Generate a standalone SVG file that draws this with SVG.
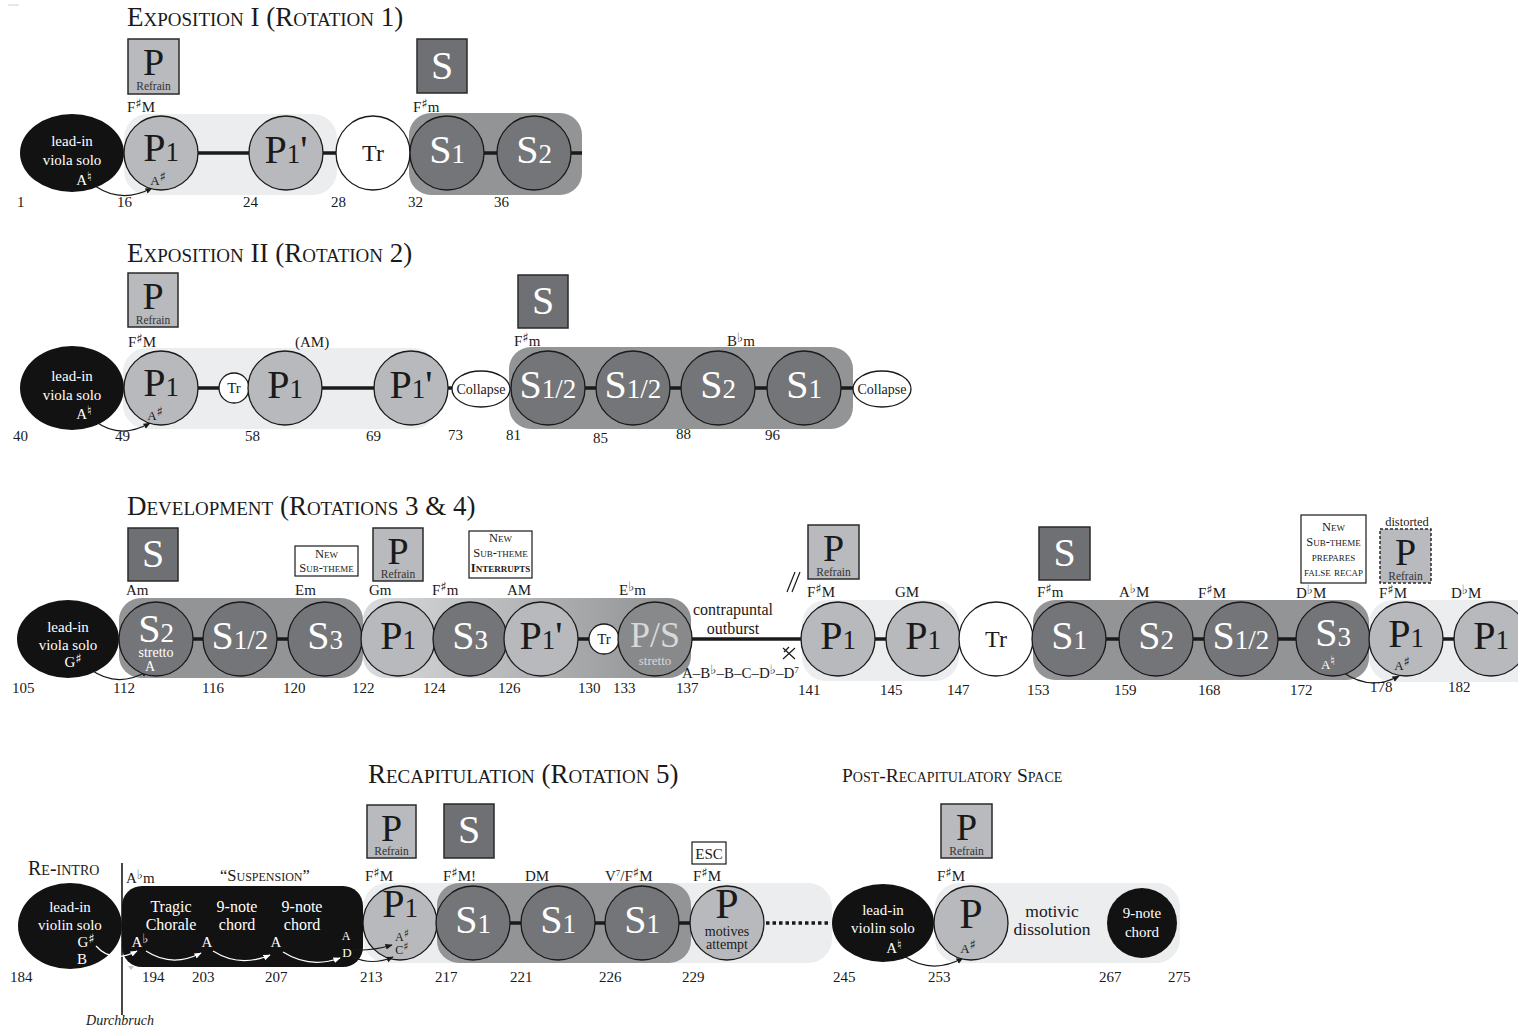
<svg xmlns="http://www.w3.org/2000/svg" width="1518" height="1029" viewBox="0 0 1518 1029">
<style>
text{font-family:"Liberation Serif",serif;fill:#1a1a1a}
.title{font-size:27px;font-variant:small-caps}
.lbl{font-size:15px}
.num{font-size:15px}
.acc{font-family:"DejaVu Sans",sans-serif;font-size:13px}
.big{font-size:40px;text-anchor:middle}
.sub{font-size:27px}
.w{fill:#fff}
.mid{text-anchor:middle}
.band-l{fill:#ecedee}
.band-d{fill:#939496}
.pc{fill:#b8b9bc;stroke:#1a1a1a;stroke-width:1.3}
.sc{fill:#747578;stroke:#1a1a1a;stroke-width:1.3}
.wc{fill:#fff;stroke:#1a1a1a;stroke-width:1.3}
.bk{fill:#121212}
.pbox{fill:#b9babd;stroke:#2a2a2a;stroke-width:1.5}
.sbox{fill:#6f7073;stroke:#2a2a2a;stroke-width:1.5}
.nbox{fill:#fff;stroke:#1a1a1a;stroke-width:1.2}
.bt{font-size:38px;text-anchor:middle}
.st{font-size:40px;text-anchor:middle;fill:#fff}
.ref{font-size:11.5px;text-anchor:middle;fill:#333}
.sm{font-size:12.5px;text-anchor:middle;font-variant:small-caps}
.in{font-size:15px;text-anchor:middle;fill:#fff}
.note{font-size:13px;text-anchor:middle}
.link{stroke:#1a1a1a;stroke-width:3.5;fill:none}
.arr{stroke:#1a1a1a;stroke-width:1.2;fill:none;marker-end:url(#ah)}
.arrw{stroke:#fff;stroke-width:1.2;fill:none;marker-end:url(#ahw)}
</style>
<defs>
<marker id="ah" viewBox="0 0 10 10" refX="9" refY="5" markerWidth="6" markerHeight="6" orient="auto"><path d="M0,1 L10,5 L0,9 z" fill="#1a1a1a"/></marker>
<marker id="ahw" viewBox="0 0 10 10" refX="9" refY="5" markerWidth="6" markerHeight="6" orient="auto"><path d="M0,1 L10,5 L0,9 z" fill="#fff"/></marker>
<linearGradient id="devgrad" x1="0" y1="0" x2="1" y2="0">
<stop offset="0" stop-color="#dadbdc"/><stop offset="1" stop-color="#8c8d8f"/>
</linearGradient>
</defs>
<rect width="1518" height="1029" fill="#fff"/>
<line x1="8" y1="5" x2="19" y2="5" stroke="#d0d0d0" stroke-width="1"/>

<!-- section titles -->
<g id="titles">
<text class="title" x="127" y="26">Exposition I (Rotation 1)</text>
<text class="title" x="127" y="262">Exposition II (Rotation 2)</text>
<text class="title" x="127" y="515">Development (Rotations 3 &amp; 4)</text>
<text class="title" x="368" y="783">Recapitulation (Rotation 5)</text>
<text class="title" x="842" y="782" style="font-size:19.5px">Post-Recapitulatory Space</text>
<text class="title" x="28" y="875" style="font-size:20px">Re-intro</text>
</g>

<!-- tonal regions behind the themes -->
<g id="regions">
<rect class="band-l" x="124" y="114" width="213" height="81" rx="24"/>
<rect class="band-d" x="409" y="113" width="173" height="82" rx="22"/>
<rect class="band-l" x="123" y="348" width="314" height="81" rx="24"/>
<rect class="band-d" x="509" y="347" width="344" height="82" rx="22"/>
<rect class="band-d" x="119" y="598" width="244" height="80" rx="22"/>
<rect x="363" y="598" width="328" height="80" rx="22" fill="url(#devgrad)"/>
<rect class="band-l" x="802" y="600" width="157" height="81" rx="24"/>
<rect class="band-d" x="1033" y="600" width="336" height="80" rx="22"/>
<rect class="band-l" x="1369" y="600" width="180" height="82" rx="24"/>
<rect class="band-l" x="363" y="883" width="469" height="80" rx="24"/>
<rect class="band-d" x="437" y="883" width="254" height="80" rx="22"/>
<rect class="band-l" x="935" y="883" width="245" height="80" rx="24"/>
</g>

<!-- connectors -->
<g id="connectors">
<line class="link" x1="198" y1="153" x2="249" y2="153"/>
<line class="link" x1="322" y1="153" x2="337" y2="153"/>
<line class="link" x1="484" y1="153" x2="498" y2="153"/>
<line class="link" x1="571" y1="153" x2="582" y2="153"/>
<path class="arr" d="M95,186 Q122,204 152,188"/>

<line class="link" x1="198" y1="388" x2="220" y2="388"/>
<line class="link" x1="322" y1="388" x2="375" y2="388"/>
<line class="link" x1="448" y1="388" x2="453" y2="388"/>
<line class="link" x1="585" y1="388" x2="597" y2="388"/>
<line class="link" x1="670" y1="388" x2="682" y2="388"/>
<line class="link" x1="755" y1="388" x2="768" y2="388"/>
<line class="link" x1="841" y1="388" x2="854" y2="388"/>
<path class="arr" d="M95,421 Q120,440 150,423"/>

<line class="link" x1="193" y1="639" x2="204" y2="639"/>
<line class="link" x1="277" y1="639" x2="289" y2="639"/>
<line class="link" x1="578" y1="639" x2="590" y2="639"/>
<line class="link" x1="692" y1="639" x2="802" y2="639"/>
<line class="link" x1="875" y1="639" x2="887" y2="639"/>
<line class="link" x1="1106" y1="639" x2="1120" y2="639"/>
<line class="link" x1="1193" y1="639" x2="1205" y2="639"/>
<line class="link" x1="1278" y1="639" x2="1297" y2="639"/>
<line class="link" x1="1443" y1="639" x2="1455" y2="639"/>
<path class="arr" d="M90,669 Q117,689 148,671"/>
<path class="arr" d="M1341,671 Q1370,692 1399,676"/>

<line class="link" x1="510" y1="923" x2="523" y2="923"/>
<line class="link" x1="594" y1="923" x2="607" y2="923"/>
<line class="link" x1="678" y1="923" x2="691" y2="923"/>
<line class="link" x1="766" y1="923" x2="830" y2="923" stroke-dasharray="3.5 3"/>
<path class="arr" d="M904,956 Q932,975 963,958"/>
</g>

<!-- Exposition I -->
<g id="e1-lead">
<ellipse class="bk" cx="72" cy="153" rx="52" ry="39"/>
<text class="in" x="72" y="146">lead-in</text>
<text class="in" x="72" y="165">viola solo</text>
<text class="in" x="84" y="185">A<tspan class="acc w" dy="-4">♮</tspan></text>
</g>
<g id="e1-refrain">
<rect class="pbox" x="128" y="39" width="51" height="55"/>
<text class="bt" x="153.5" y="75">P</text>
<text class="ref" x="153.5" y="89.5">Refrain</text>
</g>
<text class="lbl" x="127" y="112">F<tspan class="acc" dy="-4">♯</tspan><tspan dy="4">M</tspan></text>
<g id="e1-p1">
<circle class="pc" cx="161" cy="153" r="37"/>
<text class="big" x="161" y="161">P<tspan class="sub">1</tspan></text>
<text class="note" x="158" y="185">A<tspan class="acc" dy="-4">♯</tspan></text>
</g>
<g id="e1-p1b">
<circle class="pc" cx="286" cy="153" r="37"/>
<text class="big" x="286" y="163">P<tspan class="sub">1</tspan>'</text>
</g>
<g id="e1-tr">
<circle class="wc" cx="373" cy="153" r="37"/>
<text class="mid" x="373" y="161" style="font-size:24px">Tr</text>
</g>
<g id="e1-sbox">
<rect class="sbox" x="417" y="39" width="50" height="54"/>
<text class="st" x="442" y="79">S</text>
</g>
<text class="lbl" x="413" y="112">F<tspan class="acc" dy="-4">♯</tspan><tspan dy="4">m</tspan></text>
<g id="e1-s1">
<circle class="sc" cx="447" cy="153" r="37"/>
<text class="big w" x="447" y="163">S<tspan class="sub">1</tspan></text>
</g>
<g id="e1-s2">
<circle class="sc" cx="534" cy="153" r="37"/>
<text class="big w" x="534" y="163">S<tspan class="sub">2</tspan></text>
</g>
<g id="e1-bars">
<text class="num" x="17" y="207">1</text>
<text class="num" x="117" y="207">16</text>
<text class="num" x="243" y="207">24</text>
<text class="num" x="331" y="207">28</text>
<text class="num" x="408" y="207">32</text>
<text class="num" x="494" y="207">36</text>
</g>

<!-- Exposition II -->
<g id="e2-lead">
<ellipse class="bk" cx="72" cy="388" rx="52" ry="42"/>
<text class="in" x="72" y="381">lead-in</text>
<text class="in" x="72" y="400">viola solo</text>
<text class="in" x="84" y="419">A<tspan class="acc w" dy="-4">♮</tspan></text>
</g>
<g id="e2-refrain">
<rect class="pbox" x="128" y="273" width="50" height="54"/>
<text class="bt" x="153" y="309">P</text>
<text class="ref" x="153" y="323.5">Refrain</text>
</g>
<text class="lbl" x="128" y="347">F<tspan class="acc" dy="-4">♯</tspan><tspan dy="4">M</tspan></text>
<text class="lbl" x="295" y="347">(AM)</text>
<g id="e2-p1">
<circle class="pc" cx="161" cy="388" r="37"/>
<text class="big" x="161" y="396">P<tspan class="sub">1</tspan></text>
<text class="note" x="155" y="420">A<tspan class="acc" dy="-4">♯</tspan></text>
</g>
<g id="e2-tr">
<circle class="wc" cx="234" cy="388" r="15"/>
<text class="mid" x="234" y="393" style="font-size:15px">Tr</text>
</g>
<g id="e2-p1b">
<circle class="pc" cx="285" cy="388" r="37"/>
<text class="big" x="285" y="398">P<tspan class="sub">1</tspan></text>
</g>
<g id="e2-p1c">
<circle class="pc" cx="411" cy="388" r="37"/>
<text class="big" x="411" y="398">P<tspan class="sub">1</tspan>'</text>
</g>
<g id="e2-collapse1">
<ellipse class="wc" cx="481" cy="389" rx="29" ry="18"/>
<text class="mid" x="481" y="394" style="font-size:14px">Collapse</text>
</g>
<g id="e2-sbox">
<rect class="sbox" x="518" y="275" width="50" height="53"/>
<text class="st" x="543" y="314">S</text>
</g>
<text class="lbl" x="514" y="346">F<tspan class="acc" dy="-4">♯</tspan><tspan dy="4">m</tspan></text>
<text class="lbl" x="727" y="346">B<tspan class="acc" dy="-4">♭</tspan><tspan dy="4">m</tspan></text>
<g id="e2-s12a">
<circle class="sc" cx="548" cy="388" r="37"/>
<text class="big w" x="548" y="398">S<tspan class="sub">1/2</tspan></text>
</g>
<g id="e2-s12b">
<circle class="sc" cx="633" cy="388" r="37"/>
<text class="big w" x="633" y="398">S<tspan class="sub">1/2</tspan></text>
</g>
<g id="e2-s2">
<circle class="sc" cx="718" cy="388" r="37"/>
<text class="big w" x="718" y="398">S<tspan class="sub">2</tspan></text>
</g>
<g id="e2-s1">
<circle class="sc" cx="804" cy="388" r="37"/>
<text class="big w" x="804" y="398">S<tspan class="sub">1</tspan></text>
</g>
<g id="e2-collapse2">
<ellipse class="wc" cx="882" cy="389" rx="29" ry="18"/>
<text class="mid" x="882" y="394" style="font-size:14px">Collapse</text>
</g>
<g id="e2-bars">
<text class="num" x="13" y="441">40</text>
<text class="num" x="115" y="441">49</text>
<text class="num" x="245" y="441">58</text>
<text class="num" x="366" y="441">69</text>
<text class="num" x="448" y="440">73</text>
<text class="num" x="506" y="440">81</text>
<text class="num" x="593" y="443">85</text>
<text class="num" x="676" y="439">88</text>
<text class="num" x="765" y="440">96</text>
</g>

<!-- Development -->
<g id="d-lead">
<ellipse class="bk" cx="68" cy="639" rx="51" ry="39"/>
<text class="in" x="68" y="632">lead-in</text>
<text class="in" x="68" y="650">viola solo</text>
<text class="in" x="73" y="667">G<tspan class="acc w" dy="-4">♯</tspan></text>
</g>
<g id="d-sbox1">
<rect class="sbox" x="128" y="528" width="50" height="53"/>
<text class="st" x="153" y="567">S</text>
</g>
<text class="lbl" x="126" y="595">Am</text>
<g id="d-s2">
<circle class="sc" cx="156" cy="639" r="37"/>
<text class="big w" x="156" y="642">S<tspan class="sub">2</tspan></text>
<text class="mid w" x="156" y="657" style="font-size:14px">stretto</text>
<text class="mid w" x="150" y="671" style="font-size:14px">A</text>
</g>
<g id="d-s12">
<circle class="sc" cx="240" cy="639" r="37"/>
<text class="big w" x="240" y="649">S<tspan class="sub">1/2</tspan></text>
</g>
<g id="d-new1">
<rect class="nbox" x="295" y="546" width="63" height="30"/>
<text class="sm" x="326.5" y="558">New</text>
<text class="sm" x="326.5" y="572">Sub-theme</text>
</g>
<text class="lbl" x="295" y="595">Em</text>
<g id="d-s3a">
<circle class="sc" cx="325" cy="639" r="37"/>
<text class="big w" x="325" y="649">S<tspan class="sub">3</tspan></text>
</g>
<g id="d-refrain1">
<rect class="pbox" x="373" y="528" width="50" height="53"/>
<text class="bt" x="398" y="564">P</text>
<text class="ref" x="398" y="577.5">Refrain</text>
</g>
<text class="lbl" x="369" y="595">Gm</text>
<g id="d-p1a">
<circle class="pc" cx="398" cy="639" r="37"/>
<text class="big" x="398" y="649">P<tspan class="sub">1</tspan></text>
</g>
<text class="lbl" x="432" y="595">F<tspan class="acc" dy="-4">♯</tspan><tspan dy="4">m</tspan></text>
<g id="d-s3b">
<circle class="sc" cx="470" cy="639" r="37"/>
<text class="big w" x="470" y="649">S<tspan class="sub">3</tspan></text>
</g>
<g id="d-new2">
<rect class="nbox" x="469" y="531" width="63" height="47"/>
<text class="sm" x="500.5" y="542">New</text>
<text class="sm" x="500.5" y="557">Sub-theme</text>
<text class="sm" x="500.5" y="572" style="font-weight:bold">Interrupts</text>
</g>
<text class="lbl" x="507" y="595">AM</text>
<g id="d-p1b">
<circle class="pc" cx="541" cy="639" r="37"/>
<text class="big" x="541" y="649">P<tspan class="sub">1</tspan>'</text>
</g>
<g id="d-tr1">
<circle class="wc" cx="604" cy="639" r="15"/>
<text class="mid" x="604" y="644" style="font-size:15px">Tr</text>
</g>
<text class="lbl" x="619" y="595">E<tspan class="acc" dy="-4">♭</tspan><tspan dy="4">m</tspan></text>
<g id="d-ps">
<circle cx="655" cy="639" r="37" fill="#88898b" stroke="#1a1a1a" stroke-width="1.3"/>
<text class="big" x="655" y="647" style="fill:#d8d8d8;font-size:36px">P/S</text>
<text class="mid" x="655" y="665" style="fill:#d8d8d8;font-size:13px">stretto</text>
</g>
<g id="d-outburst">
<text class="mid" x="733" y="615" style="font-size:16px">contrapuntal</text>
<text class="mid" x="733" y="634" style="font-size:16px">outburst</text>
<text class="lbl" x="682" y="678">A–B<tspan class="acc" dy="-4">♭</tspan><tspan dy="4">–B–C–D</tspan><tspan class="acc" dy="-4">♭</tspan><tspan dy="4">–D</tspan><tspan dy="-5" style="font-size:9px">7</tspan></text>
<path d="M783,648 L795,659 M795,648 L783,659 M784,652 L789,647" stroke="#1a1a1a" stroke-width="1.2" fill="none"/>
<path d="M787,592 L795,572 M792,592 L800,572" stroke="#1a1a1a" stroke-width="1.2" fill="none"/>
</g>
<g id="d-refrain2">
<rect class="pbox" x="808" y="525" width="51" height="54"/>
<text class="bt" x="833.5" y="561">P</text>
<text class="ref" x="833.5" y="575.5">Refrain</text>
</g>
<text class="lbl" x="807" y="597">F<tspan class="acc" dy="-4">♯</tspan><tspan dy="4">M</tspan></text>
<text class="lbl" x="895" y="597">GM</text>
<g id="d-p1c">
<circle class="pc" cx="838" cy="639" r="37"/>
<text class="big" x="838" y="649">P<tspan class="sub">1</tspan></text>
</g>
<g id="d-p1d">
<circle class="pc" cx="923" cy="639" r="37"/>
<text class="big" x="923" y="649">P<tspan class="sub">1</tspan></text>
</g>
<g id="d-tr2">
<circle class="wc" cx="996" cy="639" r="37"/>
<text class="mid" x="996" y="647" style="font-size:24px">Tr</text>
</g>
<g id="d-sbox2">
<rect class="sbox" x="1039" y="527" width="51" height="53"/>
<text class="st" x="1064.5" y="566">S</text>
</g>
<text class="lbl" x="1037" y="597">F<tspan class="acc" dy="-4">♯</tspan><tspan dy="4">m</tspan></text>
<text class="lbl" x="1119" y="597">A<tspan class="acc" dy="-4">♭</tspan><tspan dy="4">M</tspan></text>
<text class="lbl" x="1198" y="598">F<tspan class="acc" dy="-4">♯</tspan><tspan dy="4">M</tspan></text>
<text class="lbl" x="1296" y="598">D<tspan class="acc" dy="-4">♭</tspan><tspan dy="4">M</tspan></text>
<g id="d-s1">
<circle class="sc" cx="1069" cy="639" r="37"/>
<text class="big w" x="1069" y="649">S<tspan class="sub">1</tspan></text>
</g>
<g id="d-s2b">
<circle class="sc" cx="1156" cy="639" r="37"/>
<text class="big w" x="1156" y="649">S<tspan class="sub">2</tspan></text>
</g>
<g id="d-s12b">
<circle class="sc" cx="1241" cy="639" r="37"/>
<text class="big w" x="1241" y="649">S<tspan class="sub">1/2</tspan></text>
</g>
<g id="d-new3">
<rect class="nbox" x="1301" y="515" width="65" height="68"/>
<text class="sm" x="1333.5" y="531">New</text>
<text class="sm" x="1333.5" y="546">Sub-theme</text>
<text class="sm" x="1333.5" y="561">prepares</text>
<text class="sm" x="1333.5" y="576">false recap</text>
</g>
<g id="d-s3c">
<circle class="sc" cx="1333" cy="639" r="37"/>
<text class="big w" x="1333" y="646">S<tspan class="sub">3</tspan></text>
<text class="note w" x="1328" y="669">A<tspan class="acc w" dy="-4">♮</tspan></text>
</g>
<g id="d-refrain3">
<text class="mid" x="1407" y="526" style="font-size:12.5px">distorted</text>
<rect class="pbox" x="1380" y="529" width="51" height="54" stroke-dasharray="3 2"/>
<text class="bt" x="1405.5" y="565">P</text>
<text class="ref" x="1405.5" y="579.5">Refrain</text>
</g>
<text class="lbl" x="1379" y="598">F<tspan class="acc" dy="-4">♯</tspan><tspan dy="4">M</tspan></text>
<text class="lbl" x="1451" y="598">D<tspan class="acc" dy="-4">♭</tspan><tspan dy="4">M</tspan></text>
<g id="d-p1e">
<circle class="pc" cx="1406" cy="639" r="37"/>
<text class="big" x="1406" y="647">P<tspan class="sub">1</tspan></text>
<text class="note" x="1402" y="670">A<tspan class="acc" dy="-4">♯</tspan></text>
</g>
<g id="d-p1f">
<circle class="pc" cx="1491" cy="639" r="37"/>
<text class="big" x="1491" y="649">P<tspan class="sub">1</tspan></text>
</g>
<g id="d-bars">
<text class="num" x="12" y="693">105</text>
<text class="num" x="113" y="693">112</text>
<text class="num" x="202" y="693">116</text>
<text class="num" x="283" y="693">120</text>
<text class="num" x="352" y="693">122</text>
<text class="num" x="423" y="693">124</text>
<text class="num" x="498" y="693">126</text>
<text class="num" x="578" y="693">130</text>
<text class="num" x="613" y="693">133</text>
<text class="num" x="676" y="693">137</text>
<text class="num" x="798" y="695">141</text>
<text class="num" x="880" y="695">145</text>
<text class="num" x="947" y="695">147</text>
<text class="num" x="1027" y="695">153</text>
<text class="num" x="1114" y="695">159</text>
<text class="num" x="1198" y="695">168</text>
<text class="num" x="1290" y="695">172</text>
<text class="num" x="1370" y="692">178</text>
<text class="num" x="1448" y="692">182</text>
</g>

<!-- Re-intro and Recapitulation -->
<g id="r-lead">
<ellipse class="bk" cx="70" cy="926" rx="52" ry="43"/>
<text class="in" x="70" y="912">lead-in</text>
<text class="in" x="70" y="930">violin solo</text>
<text class="in" x="86" y="947">G<tspan class="acc w" dy="-4">♯</tspan></text>
<text class="in" x="82" y="964">B</text>
</g>
<g id="r-breakthrough">
<line x1="122" y1="863" x2="122" y2="1015" stroke="#1a1a1a" stroke-width="1.6"/>
<text class="mid" x="120" y="1025" style="font-size:14px;font-style:italic">Durchbruch</text>
<polygon points="128,966 134,966 131,970" fill="#c4c4c4"/>
</g>
<g id="r-suspension">
<rect class="bk" x="122" y="886" width="241" height="81" rx="20"/>
<text class="lbl" x="126" y="883">A<tspan class="acc" dy="-4">♭</tspan><tspan dy="4">m</tspan></text>
<text x="220" y="881" style="font-size:16.5px;font-variant:small-caps">“Suspension”</text>
<text class="in" x="171" y="912" style="font-size:16px">Tragic</text>
<text class="in" x="171" y="930" style="font-size:16px">Chorale</text>
<text class="in" x="237" y="912" style="font-size:16px">9-note</text>
<text class="in" x="237" y="930" style="font-size:16px">chord</text>
<text class="in" x="302" y="912" style="font-size:16px">9-note</text>
<text class="in" x="302" y="930" style="font-size:16px">chord</text>
<text class="in" x="140" y="947">A<tspan class="acc w" dy="-4">♭</tspan></text>
<text class="in" x="207" y="947">A</text>
<text class="in" x="276" y="947">A</text>
<text class="in" x="346" y="940" style="font-size:12px">A</text>
<text class="in" x="347" y="957" style="font-size:13px">D</text>
<path class="arrw" d="M96,946 Q112,964 137,951"/>
<path class="arrw" d="M146,951 Q172,968 201,953"/>
<path class="arrw" d="M213,951 Q240,968 270,955"/>
<path class="arrw" d="M283,952 Q310,969 340,958"/>
</g>
<g id="r-refrain">
<rect class="pbox" x="367" y="805" width="49" height="53"/>
<text class="bt" x="391.5" y="841">P</text>
<text class="ref" x="391.5" y="854.5">Refrain</text>
</g>
<text class="lbl" x="365" y="881">F<tspan class="acc" dy="-4">♯</tspan><tspan dy="4">M</tspan></text>
<g id="r-p1">
<circle class="pc" cx="400" cy="923" r="37"/>
<text class="big" x="400" y="917">P<tspan class="sub">1</tspan></text>
<text class="note" x="402" y="941" style="font-size:12px">A<tspan class="acc" dy="-4" style="font-size:11px">♯</tspan></text>
<text class="note" x="402" y="954" style="font-size:12px">C<tspan class="acc" dy="-4" style="font-size:11px">♯</tspan></text>
<path class="arr" d="M353,950 Q372,951 392,945"/>
<path class="arr" d="M353,957 Q372,966 393,957"/>
</g>
<g id="r-sbox">
<rect class="sbox" x="444" y="804" width="50" height="54"/>
<text class="st" x="469" y="843">S</text>
</g>
<text class="lbl" x="443" y="881">F<tspan class="acc" dy="-4">♯</tspan><tspan dy="4">M!</tspan></text>
<text class="lbl" x="525" y="881">DM</text>
<text class="lbl" x="605" y="881">V<tspan dy="-5" style="font-size:9px">7</tspan><tspan dy="5">/F</tspan><tspan class="acc" dy="-4">♯</tspan><tspan dy="4">M</tspan></text>
<g id="r-s1a">
<circle class="sc" cx="473" cy="923" r="37"/>
<text class="big w" x="473" y="933">S<tspan class="sub">1</tspan></text>
</g>
<g id="r-s1b">
<circle class="sc" cx="558" cy="923" r="37"/>
<text class="big w" x="558" y="933">S<tspan class="sub">1</tspan></text>
</g>
<g id="r-s1c">
<circle class="sc" cx="642" cy="923" r="37"/>
<text class="big w" x="642" y="933">S<tspan class="sub">1</tspan></text>
</g>
<g id="r-esc">
<rect class="nbox" x="692" y="842" width="34" height="22"/>
<text class="mid" x="709" y="859" style="font-size:15px">ESC</text>
</g>
<text class="lbl" x="693" y="881">F<tspan class="acc" dy="-4">♯</tspan><tspan dy="4">M</tspan></text>
<g id="r-p">
<circle class="pc" cx="727" cy="923" r="37"/>
<text class="big" x="727" y="918" style="font-size:42px">P</text>
<text class="mid" x="727" y="936" style="font-size:14px">motives</text>
<text class="mid" x="727" y="949" style="font-size:14px">attempt</text>
</g>
<g id="r-bars">
<text class="num" x="10" y="982">184</text>
<text class="num" x="142" y="982">194</text>
<text class="num" x="192" y="982">203</text>
<text class="num" x="265" y="982">207</text>
<text class="num" x="360" y="982">213</text>
<text class="num" x="435" y="982">217</text>
<text class="num" x="510" y="982">221</text>
<text class="num" x="599" y="982">226</text>
<text class="num" x="682" y="982">229</text>
<text class="num" x="833" y="982">245</text>
<text class="num" x="928" y="982">253</text>
<text class="num" x="1099" y="982">267</text>
<text class="num" x="1168" y="982">275</text>
</g>

<!-- Post-recapitulatory space -->
<g id="c-lead">
<ellipse class="bk" cx="883" cy="923" rx="51" ry="39"/>
<text class="in" x="883" y="915">lead-in</text>
<text class="in" x="883" y="933">violin solo</text>
<text class="in" x="894" y="953">A<tspan class="acc w" dy="-4">♮</tspan></text>
</g>
<g id="c-refrain">
<rect class="pbox" x="941" y="804" width="51" height="54"/>
<text class="bt" x="966.5" y="840">P</text>
<text class="ref" x="966.5" y="854.5">Refrain</text>
</g>
<text class="lbl" x="937" y="881">F<tspan class="acc" dy="-4">♯</tspan><tspan dy="4">M</tspan></text>
<g id="c-p">
<circle class="pc" cx="971" cy="923" r="37"/>
<text class="big" x="971" y="928" style="font-size:42px">P</text>
<text class="note" x="968" y="953">A<tspan class="acc" dy="-4">♯</tspan></text>
</g>
<g id="c-dissolution">
<text class="mid" x="1052" y="917" style="font-size:17.5px">motivic</text>
<text class="mid" x="1052" y="935" style="font-size:17.5px">dissolution</text>
</g>
<g id="c-chord">
<circle class="bk" cx="1142" cy="923" r="35"/>
<text class="in" x="1142" y="918">9-note</text>
<text class="in" x="1142" y="937">chord</text>
</g>
</svg>
